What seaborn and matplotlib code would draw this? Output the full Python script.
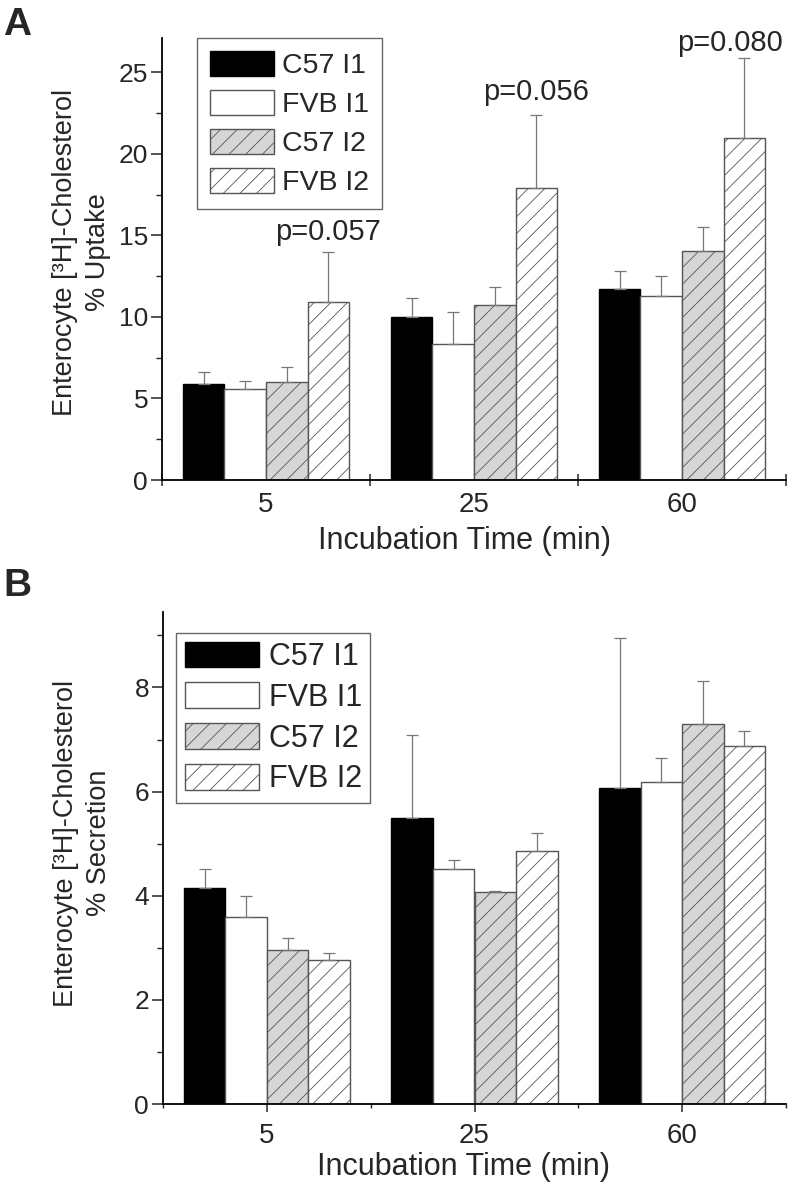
import numpy as np
import pandas as pd
import matplotlib
matplotlib.use("Agg")
import matplotlib.pyplot as plt
import seaborn as sns
from matplotlib.patches import Patch
from matplotlib.ticker import MultipleLocator, FixedLocator

# ---------------- data ----------------
times = ["5", "25", "60"]
groups = ["C57 I1", "FVB I1", "C57 I2", "FVB I2"]

uptake_c57_i1 = [5.9, 10.0, 11.7]
uptake_fvb_i1 = [5.55, 8.35, 11.3]
uptake_c57_i2 = [6.0, 10.75, 14.05]
uptake_fvb_i2 = [10.9, 17.9, 20.95]
uptake_err_c57_i1 = [0.75, 1.15, 1.1]
uptake_err_fvb_i1 = [0.55, 1.95, 1.2]
uptake_err_c57_i2 = [0.9, 1.1, 1.45]
uptake_err_fvb_i2 = [3.1, 4.45, 4.9]
uptake_p_labels = ["p=0.057", "p=0.056", "p=0.080"]

secr_c57_i1 = [4.15, 5.5, 6.06]
secr_fvb_i1 = [3.6, 4.52, 6.19]
secr_c57_i2 = [2.96, 4.08, 7.29]
secr_fvb_i2 = [2.77, 4.85, 6.88]
secr_err_c57_i1 = [0.37, 1.58, 2.9]
secr_err_fvb_i1 = [0.4, 0.17, 0.46]
secr_err_c57_i2 = [0.23, 0.02, 0.83]
secr_err_fvb_i2 = [0.13, 0.36, 0.29]

# ---------------- style ----------------
sns.set_style("ticks")
plt.rcParams["font.family"] = ["Liberation Sans", "DejaVu Sans"]
plt.rcParams["hatch.linewidth"] = 0.6
plt.rcParams["hatch.color"] = "#555555"

face = {"C57 I1": "black", "FVB I1": "white", "C57 I2": "#d6d6d6", "FVB I2": "white"}
edge = {"C57 I1": "black", "FVB I1": "#555555", "C57 I2": "#555555", "FVB I2": "#555555"}
hatch = {"C57 I1": None, "FVB I1": None, "C57 I2": "//", "FVB I2": "//"}

W, H = 791, 1186
fig = plt.figure(figsize=(W / 100, H / 100), dpi=100)


def px_axes(left, top, right, bottom):
    return fig.add_axes([left / W, 1 - bottom / H, (right - left) / W, (bottom - top) / H])


def draw_panel(ax, means, errs):
    rows = []
    for ti, t in enumerate(times):
        for gi, g in enumerate(groups):
            rows.append({"time": t, "group": g, "value": means[gi][ti], "err": errs[gi][ti]})
    df = pd.DataFrame(rows)
    sns.barplot(data=df, x="time", y="value", hue="group", order=times, hue_order=groups,
                palette=face, saturation=1, width=0.8, errorbar=None, legend=False,
                linewidth=1.0, edgecolor="#555555", ax=ax)
    for patch in list(ax.patches):
        xc = patch.get_x() + patch.get_width() / 2
        ti = int(round(xc))
        gi = int(round((xc - ti + 0.3) / 0.2))
        g = groups[gi]
        patch.set_facecolor(face[g])
        patch.set_edgecolor(edge[g])
        if hatch[g]:
            patch.set_hatch(hatch[g])
        h = patch.get_height()
        e = errs[gi][ti]
        ax.errorbar([xc], [h], yerr=[[0], [e]], fmt="none", ecolor="#777777",
                    elinewidth=0.9, capsize=4, capthick=0.9, zorder=1)
    return df


def style_axes(ax, ymax, ymaj, ymin):
    ax.set_xlim(-0.5, 2.5)
    ax.set_ylim(0, ymax)
    sns.despine(ax=ax)
    for s in ("left", "bottom"):
        ax.spines[s].set_linewidth(1.3)
        ax.spines[s].set_color("black")
    ax.yaxis.set_major_locator(MultipleLocator(ymaj))
    ax.yaxis.set_minor_locator(MultipleLocator(ymin))
    ax.tick_params(axis="y", which="major", length=8, width=1.1, pad=2, labelsize=19)
    ax.tick_params(axis="y", which="minor", length=4.5, width=1.0)
    ax.xaxis.set_minor_locator(FixedLocator([-0.5, 0.5, 1.5, 2.5]))


def make_legend(ax, x, y, fs, hl, hh, ls, bp):
    handles = [Patch(facecolor=face[g], edgecolor=edge[g], hatch=hatch[g], linewidth=1.0)
               for g in groups]
    leg = ax.legend(handles, groups, loc="upper left", bbox_to_anchor=(x, y),
                    borderaxespad=0, fontsize=fs, handlelength=hl, handleheight=hh,
                    handletextpad=0.3, labelspacing=ls, borderpad=bp,
                    fancybox=False, framealpha=1, edgecolor="#666666")
    leg.get_frame().set_linewidth(1.0)


ylabel_base = "Enterocyte [³H]-Cholesterol"

# ---------------- Panel A ----------------
axA = px_axes(162, 38, 786, 480)
means_A = [uptake_c57_i1, uptake_fvb_i1, uptake_c57_i2, uptake_fvb_i2]
errs_A = [uptake_err_c57_i1, uptake_err_fvb_i1, uptake_err_c57_i2, uptake_err_fvb_i2]
draw_panel(axA, means_A, errs_A)
style_axes(axA, 27.1, 5, 2.5)
axA.tick_params(axis="x", which="major", length=0, pad=9, labelsize=20)
axA.tick_params(axis="x", which="minor", direction="inout", length=9, width=1.1)
axA.set_xlabel("Incubation Time (min)", fontsize=22)
axA.xaxis.set_label_coords(0.484, -0.105)
axA.set_ylabel(ylabel_base + "\n% Uptake", fontsize=19.5, linespacing=1.35)
axA.yaxis.set_label_coords(-0.082, 0.515)
p_offsets = [0.7, 0.95, 0.45]
p_dx = [0.0, 0.0, -0.07]
for ti in range(3):
    top = uptake_fvb_i2[ti] + uptake_err_fvb_i2[ti]
    axA.text(ti + 0.3 + p_dx[ti], top + p_offsets[ti], uptake_p_labels[ti],
             ha="center", va="baseline", fontsize=21, clip_on=False)
make_legend(axA, (197 - 162) / 624, 1.0, 20.5, 2.25, 0.97, 0.38, 0.45)

# ---------------- Panel B ----------------
axB = px_axes(163, 612, 786, 1104)
means_B = [secr_c57_i1, secr_fvb_i1, secr_c57_i2, secr_fvb_i2]
errs_B = [secr_err_c57_i1, secr_err_fvb_i1, secr_err_c57_i2, secr_err_fvb_i2]
draw_panel(axB, means_B, errs_B)
style_axes(axB, 9.45, 2, 1)
axB.tick_params(axis="x", which="major", direction="out", length=6, width=1.1, pad=8, labelsize=20)
axB.tick_params(axis="x", which="minor", direction="out", length=3, width=1.0)
axB.set_xlabel("Incubation Time (min)", fontsize=22)
axB.xaxis.set_label_coords(0.483, -0.098)
axB.set_ylabel(ylabel_base + "\n% Secretion", fontsize=19.5, linespacing=1.35)
axB.yaxis.set_label_coords(-0.082, 0.53)
make_legend(axB, (176 - 163) / 623, (1104 - 633) / 492, 22, 2.45, 0.92, 0.34, 0.28)

# panel letters
fig.text(3 / W, 1 - 7 / H, "A", fontsize=28, fontweight="bold", va="top", ha="left")
fig.text(3 / W, 1 - 568 / H, "B", fontsize=28, fontweight="bold", va="top", ha="left")

fig.savefig("out.png", dpi=100)
